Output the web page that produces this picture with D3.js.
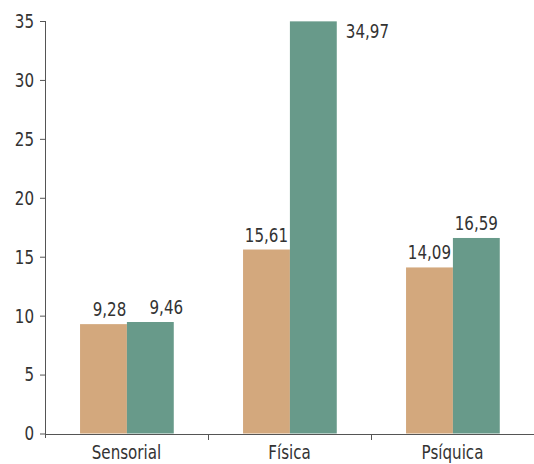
<!DOCTYPE html>
<html>
<head>
<meta charset="utf-8">
<script src="https://cdn.jsdelivr.net/npm/d3@7"></script>
<style>
  body { margin: 0; background: #fff; }
  text { font-family: "Liberation Sans Narrow", "DejaVu Sans Condensed", "Roboto Condensed", sans-serif; fill: #333; }
</style>
</head>
<body>
<div id="chart"></div>
<script>
// ============ DATA ============
const categories = ["Sensorial", "Física", "Psíquica"];
const series = ["A", "B"];
const valuesA = [9.28, 15.61, 14.09];
const valuesB = [9.46, 34.97, 16.59];
const yTicks = [0, 5, 10, 15, 20, 25, 30, 35];
const colors = ["#D3A87D", "#689A8A"];

const data = categories.map((c, i) => ({category: c, values: [valuesA[i], valuesB[i]]}));

// Dimensions
const margin = {top: 21, right: 0, bottom: 30, left: 45};
const width = 534 - margin.left - margin.right;
const height = 464 - margin.top - margin.bottom;

const svg = d3.select("#chart")
    .append("svg")
    .attr("width", 534)
    .attr("height", 464)
    .append("g")
    .attr("transform", `translate(${margin.left},${margin.top})`);

// Scales
const x0 = d3.scaleBand()
    .domain(categories)
    .range([0, width])
    .padding(0);

const x1 = d3.scaleBand()
    .domain(series)
    .range([x0.bandwidth() * 0.215, x0.bandwidth() * 0.79])
    .padding(0);

const y = d3.scaleLinear()
    .domain([0, 35])
    .range([height - 0.5, 0]);

const fmt = v => d3.format(".2f")(v).replace(".", ",");

// Bars
const groups = svg.selectAll(".grp")
    .data(data)
    .enter()
    .append("g")
    .attr("class", "grp")
    .attr("transform", d => `translate(${x0(d.category)},0)`);

groups.selectAll("rect")
    .data(d => d.values.map((v, i) => ({key: series[i], value: v, i: i})))
    .enter()
    .append("rect")
    .attr("x", d => x1(d.key))
    .attr("y", d => y(d.value))
    .attr("width", x1.bandwidth())
    .attr("height", d => y(0) - y(d.value))
    .attr("fill", d => colors[d.i]);

// Value labels
groups.selectAll(".lbl")
    .data(d => d.values.map((v, i) => ({key: series[i], value: v, i: i})))
    .enter()
    .append("text")
    .attr("class", "lbl")
    .attr("font-size", 20)
    .attr("x", d => d.value > 30 ? x1(d.key) + x1.bandwidth() + 9 : x1(d.key) + x1.bandwidth() / 2 + (d.value < 10 ? (d.i ? 16 : 6) : 0))
    .attr("y", d => d.value > 30 ? y(d.value) + 17 : y(d.value) - 8)
    .attr("text-anchor", d => d.value > 30 ? "start" : "middle")
    .text(d => fmt(d.value));

// Y axis
const yAxis = svg.append("g")
    .call(d3.axisLeft(y).tickValues(yTicks).tickSize(5).tickPadding(6));
yAxis.select(".domain").attr("d", `M0.5,0V${height + 4}`).attr("stroke", "#555");
yAxis.selectAll(".tick line").attr("stroke", "#555");
yAxis.selectAll(".tick text").attr("font-size", 20).attr("fill", "#333")
    .attr("font-family", "Liberation Sans Narrow, DejaVu Sans Condensed, sans-serif");

// X axis
const xAxis = svg.append("g")
    .attr("transform", `translate(0,${height})`)
    .call(d3.axisBottom(x0).tickSize(0).tickPadding(11));
xAxis.select(".domain").attr("d", `M0,0.5H${width}`).attr("stroke", "#555");
xAxis.selectAll(".tick text").attr("font-size", 20).attr("fill", "#333")
    .attr("font-family", "Liberation Sans Narrow, DejaVu Sans Condensed, sans-serif");

// Category separators
svg.selectAll(".sep")
    .data(categories.slice(1))
    .enter()
    .append("line")
    .attr("class", "sep")
    .attr("x1", d => Math.round(x0(d)) + 0.5)
    .attr("x2", d => Math.round(x0(d)) + 0.5)
    .attr("y1", height)
    .attr("y2", height + 6)
    .attr("stroke", "#555");

// Squeeze all text horizontally to mimic a condensed typeface
svg.selectAll("text").each(function() {
    const len = this.getComputedTextLength();
    d3.select(this)
        .attr("textLength", len * 0.84)
        .attr("lengthAdjust", "spacingAndGlyphs");
});
</script>
</body>
</html>
